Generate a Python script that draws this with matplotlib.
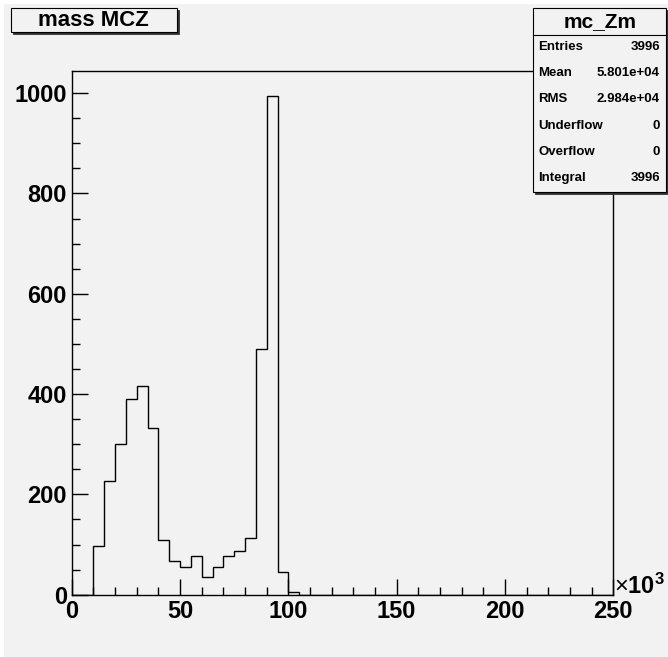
import numpy as np
import matplotlib.pyplot as plt
from matplotlib.patches import Rectangle

# histogram mc_Zm: 50 bins of 5 (x10^3) from 0 to 250
bin_edges = np.arange(0, 255, 5)
counts = [0, 0, 97, 227, 301, 391, 417, 333, 109, 68,
          55, 77, 35, 56, 77, 87, 113, 489, 995, 45,
          5, 0, 0, 0, 0, 0, 0, 0, 0, 0,
          0, 0, 0, 0, 0, 0, 0, 0, 0, 0,
          0, 0, 0, 0, 0, 0, 0, 0, 0, 0]

hist_title = "mass MCZ"
stats_title = "mc_Zm"
stats_names = ["Entries", "Mean", "RMS", "Underflow", "Overflow", "Integral"]
stats_values = ["3996", "5.801e+04", "2.984e+04", "0", "0", "3996"]

plt.rcParams['font.family'] = ['Liberation Sans', 'DejaVu Sans']
plt.rcParams['mathtext.fontset'] = 'custom'
plt.rcParams['mathtext.rm'] = 'Liberation Sans'
plt.rcParams['mathtext.bf'] = 'Liberation Sans:bold'

W, H = 668, 657
bg = '#f2f2f2'

fig = plt.figure(figsize=(W / 100, H / 100), dpi=100, facecolor='white')


def fx(px):
    return px / W


def fy(py):
    return 1 - py / H


# grey canvas
fig.patches.append(Rectangle((fx(4), 0), 1 - fx(4), fy(4), transform=fig.transFigure,
                             facecolor=bg, edgecolor='none', zorder=-5))

left, right, top, bottom = 71.7, 613.3, 70.7, 594.7
ax = fig.add_axes([fx(left), fy(bottom), fx(right - left), (bottom - top) / H])
ax.set_facecolor(bg)
ax.stairs(counts, bin_edges, color='black', lw=1.0, baseline=0)

ax.set_xlim(0, 250)
ax.set_ylim(0, max(counts) * 1.05)
ax.set_xticks(np.arange(0, 251, 50))
ax.set_xticks(np.arange(0, 251, 10), minor=True)
ax.set_yticks(np.arange(0, 1001, 200))
ax.set_yticks(np.arange(0, 1001, 50), minor=True)
ax.tick_params(which='both', direction='in', top=False, right=False, width=1, color='black')
ax.tick_params(which='major', length=11.5)
ax.tick_params(which='minor', length=5.8)
ax.tick_params(axis='y', which='major', pad=3.5, labelsize=17)
ax.tick_params(axis='x', which='major', pad=4, labelsize=17)
for lab in ax.get_xticklabels() + ax.get_yticklabels():
    lab.set_fontweight('bold')
for sp in ax.spines.values():
    sp.set_linewidth(1)
    sp.set_color('black')

# axis multiplier
fig.text(fx(614), fy(594), r'×$\mathbf{10^{3}}$', fontsize=17,
         ha='left', va='baseline')


def box(x0, y0, x1, y1):
    fig.patches.append(Rectangle((fx(x0 + 2), fy(y1 + 2)), fx(x1 - x0), (y1 - y0) / H,
                                 transform=fig.transFigure, facecolor='#333333',
                                 edgecolor='#333333', lw=0.6, zorder=5))
    fig.patches.append(Rectangle((fx(x0), fy(y1)), fx(x1 - x0), (y1 - y0) / H,
                                 transform=fig.transFigure, facecolor=bg,
                                 edgecolor='black', lw=0.8, zorder=6))


# title box
box(11, 8.3, 176.7, 32.3)
fig.text(fx(93.8), fy(20.5), hist_title, fontsize=16, fontweight='bold',
         ha='center', va='center', zorder=7)

# stats box
box(532.7, 8.3, 666.0, 191.7)
fig.add_artist(plt.Line2D([fx(532.7), fx(666.0)], [fy(34.7), fy(34.7)],
                          transform=fig.transFigure, color='black', lw=0.8, zorder=7))
fig.text(fx(600), fy(22), stats_title, fontsize=15, fontweight='bold',
         ha='center', va='center', zorder=7)
row_y = [46.7, 72.7, 99, 126, 151.7, 178]
for name, val, yy in zip(stats_names, stats_values, row_y):
    fig.text(fx(538.3), fy(yy), name, fontsize=9.5, fontweight='bold',
             ha='left', va='center', zorder=7)
    fig.text(fx(660), fy(yy), val, fontsize=9.5, fontweight='bold',
             ha='right', va='center', zorder=7)

fig.savefig('out.png', dpi=100, facecolor='white')
